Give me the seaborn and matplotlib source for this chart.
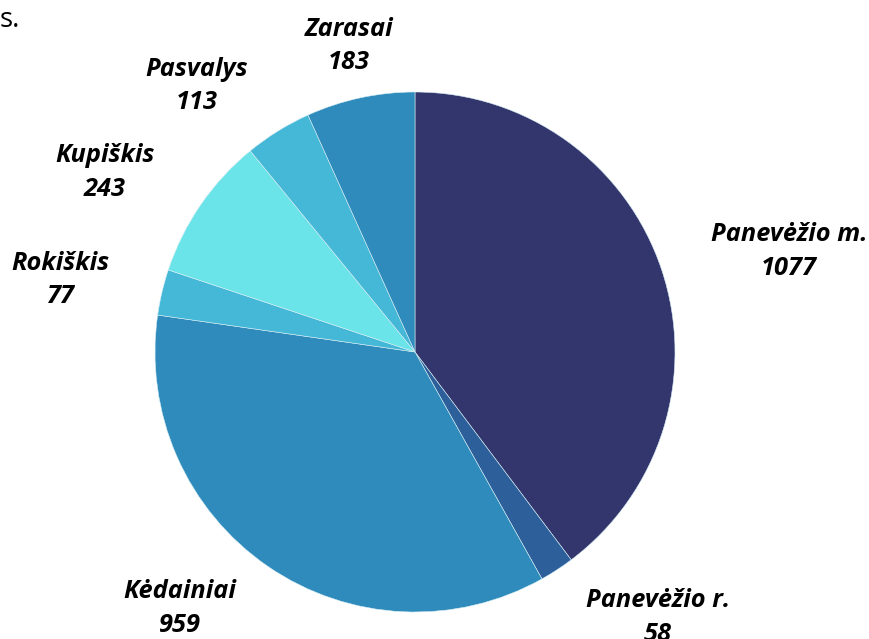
import numpy as np
import matplotlib
matplotlib.use("Agg")
import matplotlib.pyplot as plt
import seaborn as sns

# Datos del gráfico
categorias = ["Panevėžio m.", "Panevėžio r.", "Kėdainiai", "Rokiškis",
              "Kupiškis", "Pasvalys", "Zarasai"]
valores = [1077, 58, 959, 77, 243, 113, 183]
colores = ["#32366c", "#2d5f9a", "#2e8bbb", "#44b8d6",
           "#6ae4e8", "#44b8d6", "#2e8bbb"]

# Posición de las etiquetas (en radios del pastel)
etiqueta_x = [1.438, 0.935, -0.904, -1.365, -1.192, -0.838, -0.254]
etiqueta_y = [0.385, -1.020, -0.987, 0.277, 0.692, 1.023, 1.177]

sns.set_theme(style="white")
plt.rcParams['font.family'] = ['Open Sans', 'DejaVu Sans']

fig = plt.figure(figsize=(8.69, 6.39), dpi=100)
ax = fig.add_axes([0, 0, 1, 1])

ax.pie(valores, colors=sns.color_palette(colores), startangle=90,
       counterclock=False, radius=1,
       wedgeprops=dict(edgecolor="#d8eef5", linewidth=0.4))

for cat, val, x, y in zip(categorias, valores, etiqueta_x, etiqueta_y):
    ax.text(x, y, f"{cat}\n{val}", ha="center", va="center",
            multialignment="center", fontsize=18.3, fontweight="bold",
            fontstyle="italic", linespacing=1.47, color="black",
            clip_on=False)

ax.set_xlim(-415 / 260, 454 / 260)
ax.set_ylim(-287 / 260, 352 / 260)
ax.set_aspect("auto")
ax.axis("off")

# Texto cortado en la esquina superior izquierda
fig.text(0.0, 0.99, "s.", ha="left", va="top", fontsize=20, color="black")

fig.savefig("out.png", dpi=100)
